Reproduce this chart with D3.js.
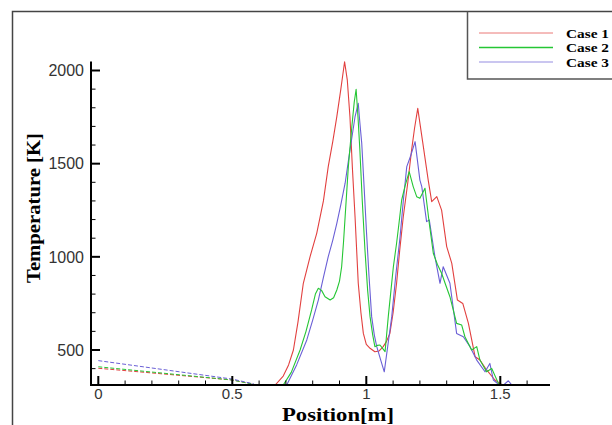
<!DOCTYPE html>
<html><head><meta charset="utf-8">
<script src="https://cdn.jsdelivr.net/npm/d3@7"></script>
<style>html,body{margin:0;padding:0;background:#fff;}svg{display:block;}</style>
</head><body>
<script>
// ---- data ----
const seriesNames = ["Case 1", "Case 2", "Case 3"];
const seriesColors = ["#e2403f", "#25c634", "#6a5fd6"];
// inlet (dashed) part: position [m], temperature [K]
const case1InletPos = [0, 0.5, 0.58];
const case1InletTemp = [402, 339, 316];
const case2InletPos = [0, 0.5, 0.58];
const case2InletTemp = [410, 339, 316];
const case3InletPos = [0, 0.5, 0.58];
const case3InletTemp = [443, 344, 318];
// main (solid) part
const case1Pos = [0.62,0.66,0.69,0.71,0.728,0.745,0.765,0.79,0.815,0.84,0.858,0.875,0.89,0.905,0.919,0.929,0.939,0.948,0.958,0.97,0.98,0.989,1.0,1.014,1.032,1.048,1.063,1.075,1.088,1.1,1.113,1.125,1.138,1.155,1.169,1.18,1.192,1.21,1.231,1.244,1.263,1.281,1.3,1.319,1.34,1.36,1.381,1.406,1.424,1.449,1.48,1.499,1.52];
const case1Temp = [300,312,360,420,500,650,858,1000,1126,1300,1484,1620,1752,1900,2047,1950,1752,1480,1215,858,700,589,530,509,491,495,518,545,589,700,858,1040,1215,1400,1573,1690,1797,1620,1412,1296,1323,1251,1055,965,768,750,643,464,446,393,339,321,300];
const case2Pos = [0.64,0.69,0.72,0.753,0.775,0.796,0.81,0.821,0.833,0.846,0.865,0.878,0.89,0.9,0.908,0.915,0.921,0.933,0.946,0.955,0.962,0.969,0.976,0.985,0.995,1.005,1.014,1.024,1.032,1.042,1.051,1.06,1.07,1.082,1.092,1.101,1.113,1.122,1.132,1.144,1.16,1.175,1.188,1.2,1.219,1.235,1.25,1.265,1.281,1.296,1.312,1.337,1.356,1.368,1.393,1.412,1.424,1.449,1.468,1.493,1.51];
const case2Temp = [300,312,380,500,600,715,800,831,820,786,768,780,822,870,947,1080,1215,1484,1698,1830,1899,1750,1573,1300,1037,820,679,580,518,525,527,510,491,679,820,947,1073,1180,1305,1377,1457,1377,1323,1314,1368,1180,1019,960,912,850,786,643,634,571,500,518,446,383,401,321,300];
const case3Pos = [0.65,0.703,0.74,0.778,0.8,0.821,0.84,0.858,0.875,0.89,0.905,0.921,0.939,0.958,0.97,0.976,0.983,0.992,1.001,1.01,1.02,1.03,1.039,1.053,1.067,1.08,1.095,1.11,1.126,1.138,1.151,1.165,1.182,1.2,1.207,1.225,1.235,1.256,1.275,1.287,1.312,1.337,1.362,1.387,1.412,1.443,1.461,1.474,1.49,1.505,1.53,1.548];
const case3Temp = [300,312,420,554,660,768,890,1001,1090,1180,1280,1395,1573,1752,1824,1720,1609,1370,1126,900,679,580,518,450,383,520,679,900,1108,1300,1484,1540,1618,1412,1377,1189,1198,1001,858,947,858,589,571,518,446,383,428,339,320,303,335,303];
const xTickValues = [0, 0.5, 1, 1.5];
const xTickLabels = ["0", "0.5", "1", "1.5"];
const yTickValues = [500, 1000, 1500, 2000];
const yTickLabels = ["500", "1000", "1500", "2000"];
const xTitle = "Position[m]";
const yTitle = "Temperature [K]";

// ---- layout ----
const W = 612, H = 425;
const svg = d3.select("body").append("svg").attr("width", W).attr("height", H);

const x = d3.scaleLinear().domain([0, 1]).range([98.3, 366.3]);
const y = d3.scaleLinear().domain([500, 2000]).range([350, 70.5]);
const xMin = x.invert(91), xMax = x.invert(550);
const yMin = y.invert(385), yMax = y.invert(61.5);

// outer frame
svg.append("path").attr("d", "M12.5,425 V11.5 H612")
  .attr("fill", "none").attr("stroke", "#444").attr("stroke-width", 1.5);
// legend box
svg.append("path").attr("d", "M612,79 H467.5 V11.5")
  .attr("fill", "none").attr("stroke", "#555").attr("stroke-width", 1.5);

svg.append("defs").append("clipPath").attr("id", "clip")
  .append("rect").attr("x", x(xMin)).attr("y", y(yMax) - 2)
  .attr("width", x(xMax) - x(xMin)).attr("height", y(yMin) - y(yMax) + 2);

const line = d3.line().x(d => x(d[0])).y(d => y(d[1])).curve(d3.curveLinear);
const zip = (a, b) => a.map((v, i) => [v, b[i]]);
const inlets = [zip(case1InletPos, case1InletTemp), zip(case2InletPos, case2InletTemp), zip(case3InletPos, case3InletTemp)];
const mains = [zip(case1Pos, case1Temp), zip(case2Pos, case2Temp), zip(case3Pos, case3Temp)];

const plot = svg.append("g").attr("clip-path", "url(#clip)");
[0, 1, 2].forEach(i => {
  plot.append("path").attr("d", line(inlets[i]))
    .attr("fill", "none").attr("stroke", seriesColors[i]).attr("stroke-width", 1)
    .attr("stroke-dasharray", "4,2");
});
[0, 2, 1].forEach(i => {
  plot.append("path").attr("d", line(mains[i]))
    .attr("fill", "none").attr("stroke", seriesColors[i]).attr("stroke-width", 1.1)
    .attr("stroke-linejoin", "round");
});

// axes
const axisG = svg.append("g");
axisG.append("line").attr("x1", x(xMin)).attr("x2", x(xMax)).attr("y1", 385).attr("y2", 385)
  .attr("stroke", "#000").attr("stroke-width", 2);
axisG.append("line").attr("x1", 91).attr("x2", 91).attr("y1", y(yMax)).attr("y2", 386)
  .attr("stroke", "#000").attr("stroke-width", 2);

// x ticks (inside, upward)
const xMinor = d3.range(0, 1.7, 0.1).filter(v => v <= xMax);
xMinor.forEach(v => {
  const major = xTickValues.some(t => Math.abs(t - v) < 1e-6);
  axisG.append("line").attr("x1", x(v)).attr("x2", x(v)).attr("y1", 385).attr("y2", major ? 376 : 380.5)
    .attr("stroke", "#000").attr("stroke-width", major ? 2 : 1);
});
xTickValues.forEach((v, i) => {
  axisG.append("text").attr("x", x(v)).attr("y", 399).attr("text-anchor", "middle")
    .attr("font-family", "Liberation Sans, Arial, sans-serif").attr("font-size", 15)
    .attr("fill", "#333").text(xTickLabels[i]);
});
// y ticks (inside, rightward)
const yMinor = d3.range(400, 2001, 100);
yMinor.forEach(v => {
  const major = yTickValues.includes(v);
  axisG.append("line").attr("x1", 91).attr("x2", major ? 100 : 95.5).attr("y1", y(v)).attr("y2", y(v))
    .attr("stroke", "#000").attr("stroke-width", major ? 2 : 1);
});
yTickValues.forEach((v, i) => {
  axisG.append("text").attr("x", 84).attr("y", y(v)).attr("dy", "0.36em").attr("text-anchor", "end")
    .attr("font-family", "Liberation Sans, Arial, sans-serif").attr("font-size", 16)
    .attr("fill", "#333").text(yTickLabels[i]);
});

// titles
svg.append("text").attr("x", 338).attr("y", 420.5).attr("text-anchor", "middle")
  .attr("font-family", "Liberation Serif, Times New Roman, serif").attr("font-weight", "bold")
  .attr("font-size", 18.5).attr("textLength", 112).attr("lengthAdjust", "spacingAndGlyphs")
  .attr("fill", "#000").text(xTitle);
svg.append("text").attr("transform", "translate(40,208) rotate(-90)").attr("text-anchor", "middle")
  .attr("font-family", "Liberation Serif, Times New Roman, serif").attr("font-weight", "bold")
  .attr("font-size", 18).attr("textLength", 150).attr("lengthAdjust", "spacingAndGlyphs")
  .attr("fill", "#000").text(yTitle);

// legend
const legY = [33, 47.5, 62];
seriesNames.forEach((n, i) => {
  svg.append("line").attr("x1", 479).attr("x2", 553).attr("y1", legY[i]).attr("y2", legY[i])
    .attr("stroke", seriesColors[i]).attr("stroke-width", i === 1 ? 1.6 : 1).attr("opacity", i === 1 ? 1 : 0.7);
  svg.append("text").attr("x", 566).attr("y", legY[i] + 4.5)
    .attr("font-family", "Liberation Serif, Times New Roman, serif").attr("font-weight", "bold")
    .attr("font-size", 13.5).attr("textLength", 43).attr("lengthAdjust", "spacingAndGlyphs")
    .attr("fill", "#000").text(n);
});
</script>
</body></html>
